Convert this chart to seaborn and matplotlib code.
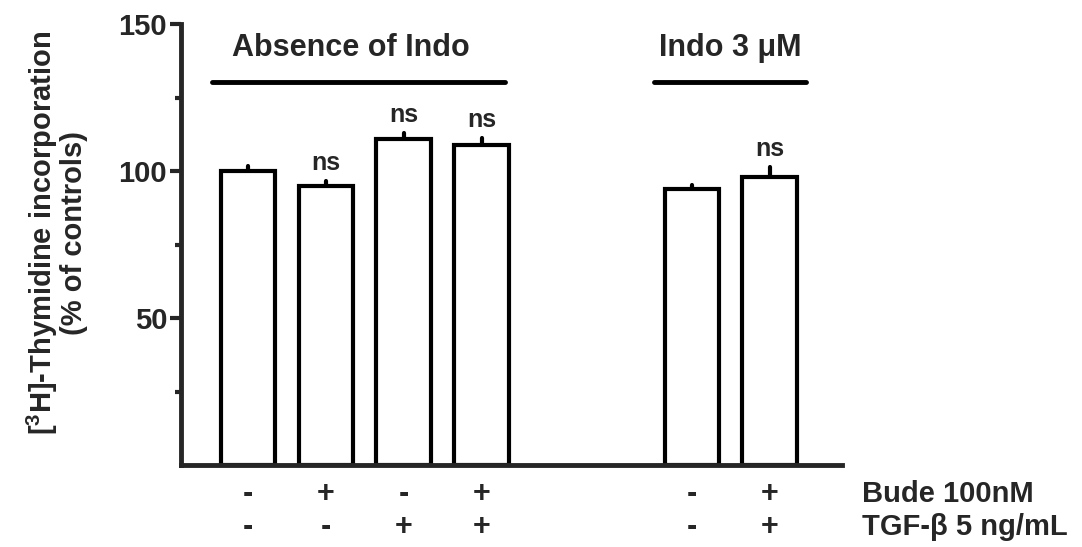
import numpy as np
import pandas as pd
import matplotlib
matplotlib.use("Agg")
import matplotlib.pyplot as plt
from matplotlib.ticker import FixedLocator
import seaborn as sns

# ---- data ----
conditions = ["ctrl", "Bude", "TGF", "Bude+TGF", "Indo", "Indo+Bude+TGF"]
means = [100, 95, 111, 109, 94, 98]
sem = [1.6, 1.6, 1.8, 2.1, 1.3, 3.3]
ns_marks = ["", "ns", "ns", "ns", "", "ns"]
bude_row = ["-", "+", "-", "+", "-", "+"]
tgf_row = ["-", "-", "+", "+", "-", "+"]
row_labels = ["Bude 100nM", "TGF-β 5 ng/mL"]
group_labels = ["Absence of Indo", "Indo 3 μM"]
group_sizes = [4, 2]
y_major = [50, 100, 150]
y_minor = [25, 75, 125]

# ---- layout (bar positions, group line extents) ----
gap = 2.7
positions = []
start = 0.0
for gsize in group_sizes:
    positions += [start + i for i in range(gsize)]
    start = positions[-1] + gap
line_pad = [(-0.46, 0.30), (-0.49, 0.47)]
text_shift = [-0.1, 0.0]

df = pd.DataFrame({"pos": positions, "value": means, "cond": conditions})

sns.set_style("ticks")
plt.rcParams["font.family"] = ["Liberation Sans", "DejaVu Sans"]
plt.rcParams["font.weight"] = "bold"
plt.rcParams["mathtext.fontset"] = "custom"
plt.rcParams["mathtext.rm"] = "Liberation Sans:bold"
plt.rcParams["mathtext.bf"] = "Liberation Sans:bold"
plt.rcParams["mathtext.it"] = "Liberation Sans:bold"

fig = plt.figure(figsize=(10.82, 5.47), dpi=100)
ax = fig.add_axes([0.1673, 0.1499, 0.6109, 0.8062])

lw = 3.0
# error bars (upper only)
eb = ax.errorbar(positions, means, yerr=[np.zeros(len(means)), sem], fmt="none",
                 ecolor="black", elinewidth=lw, capsize=0, zorder=1)
for lc in eb.lines[2]:
    lc.set_capstyle("round")

sns.barplot(data=df, x="pos", y="value", native_scale=True, width=0.7,
            color="white", edgecolor="black", linewidth=lw, errorbar=None,
            ax=ax, zorder=2)
for p in ax.patches:
    p.set_facecolor("white")
    p.set_joinstyle("miter")

ax.set_xlim(positions[0] - 0.86, positions[-1] + 0.93)
ax.set_ylim(0, 150)
ax.yaxis.set_major_locator(FixedLocator(y_major))
ax.yaxis.set_minor_locator(FixedLocator(y_minor))
ax.set_xticks([])
ax.set_xlabel("")
ax.set_ylabel("")
ax.tick_params(axis="y", which="major", length=8, width=lw, labelsize=21, pad=2)
ax.tick_params(axis="y", which="minor", length=4.5, width=lw)
for lab in ax.get_yticklabels():
    lab.set_fontweight("bold")
for s in ["top", "right"]:
    ax.spines[s].set_visible(False)
for s in ["left", "bottom"]:
    ax.spines[s].set_linewidth(3.5)

# ns labels
for x, m, e, t in zip(positions, means, sem, ns_marks):
    if t:
        ax.text(x, m + e + 2.2, t, ha="center", va="bottom", fontsize=18,
                fontweight="bold")

# group labels and lines
idx = 0
for gsize, glab, (p0, p1), ts in zip(group_sizes, group_labels, line_pad, text_shift):
    gpos = positions[idx: idx + gsize]
    x0, x1 = gpos[0] + p0, gpos[-1] + p1
    ax.plot([x0, x1], [130.3, 130.3], color="black", lw=3.5,
            solid_capstyle="round", clip_on=False)
    ax.text((x0 + x1) / 2 + ts, 142, glab, ha="center", va="center",
            fontsize=22, fontweight="bold")
    idx += gsize

# condition rows under the axis
tr = ax.get_xaxis_transform()
row_y = [-0.065, -0.14]
for ry, row in zip(row_y, [bude_row, tgf_row]):
    for x, s in zip(positions, row):
        ax.text(x, ry, s, transform=tr, ha="center", va="center", fontsize=22,
                fontweight="bold")
for ry, lab in zip(row_y, row_labels):
    ax.text(positions[-1] + 1.19, ry, lab, transform=tr, ha="left", va="center",
            fontsize=21, fontweight="bold")

fig.text(56 / 1082, 1 - 233 / 547,
         "[$^{3}$H]-Thymidine incorporation\n(% of controls)",
         rotation=90, ha="center", va="center", multialignment="center",
         fontsize=21, fontweight="bold", linespacing=1.0)

fig.savefig("out.png", dpi=100)
